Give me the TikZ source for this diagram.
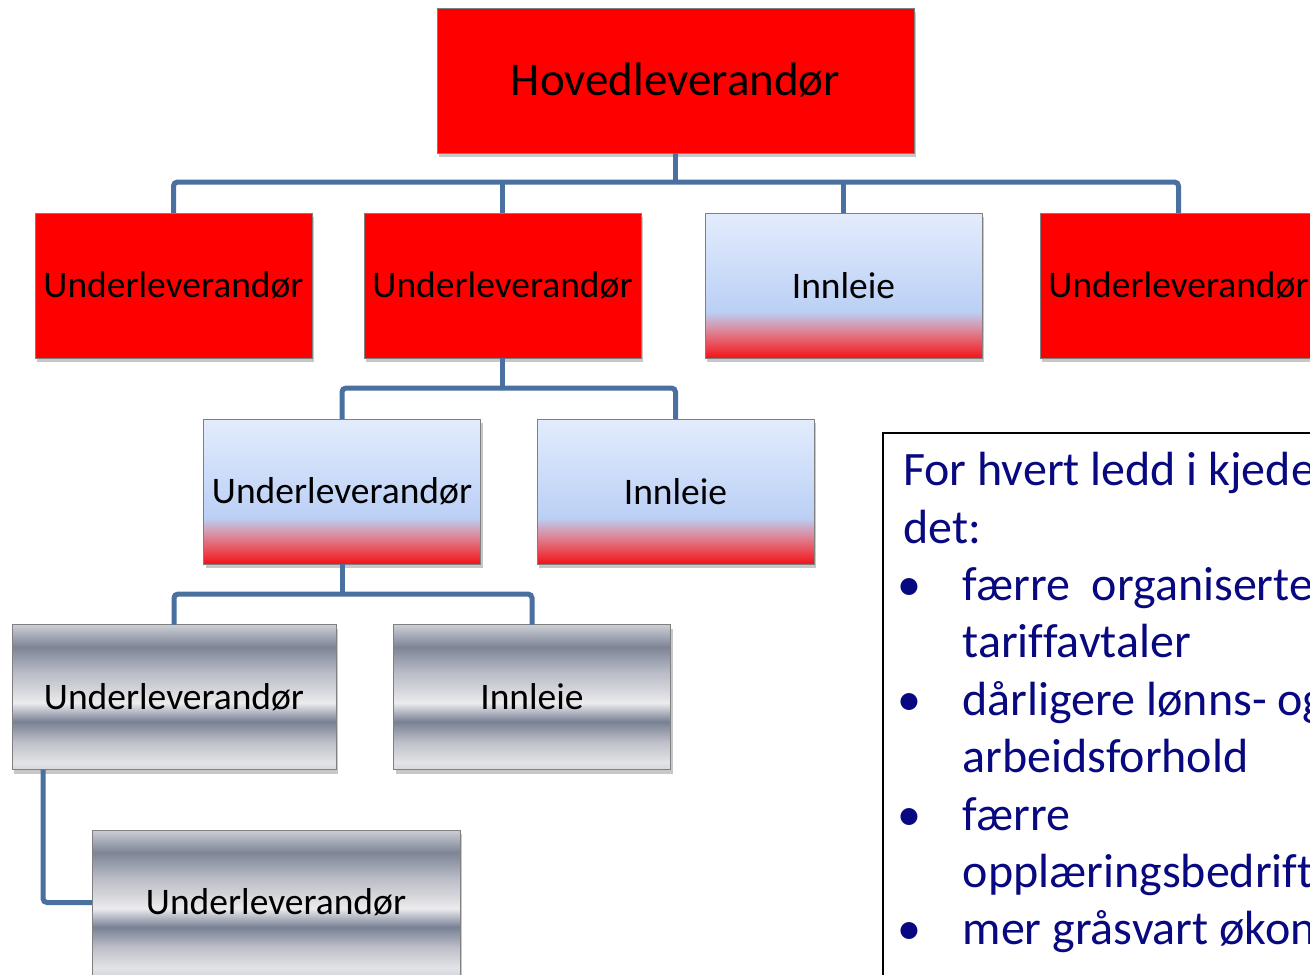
\documentclass[tikz,border=0pt]{standalone}
\usepackage{fontspec}
\setmainfont{Carlito}
\usetikzlibrary{shadows,calc}
% blue-to-red gradient
\definecolor{rb0}{RGB}{227,236,252}
\definecolor{rb1}{RGB}{187,208,246}
\definecolor{rb2}{RGB}{218,140,160}
\definecolor{rb3}{RGB}{232,80,90}
\definecolor{rb4}{RGB}{245,18,24}
\pgfdeclareverticalshading{bluered}{100bp}{color(0bp)=(rb4); color(25bp)=(rb4); color(30bp)=(rb3); color(35bp)=(rb2); color(41bp)=(rb1); color(75bp)=(rb0); color(100bp)=(rb0)}
% chrome gradient
\definecolor{gA}{RGB}{205,207,214}
\definecolor{gB}{RGB}{125,132,150}
\definecolor{gC}{RGB}{185,188,198}
\definecolor{gE}{RGB}{215,216,220}
\definecolor{gF}{RGB}{236,236,239}
\definecolor{gG}{RGB}{120,128,148}
\definecolor{gH}{RGB}{190,192,200}
\definecolor{gI}{RGB}{226,227,231}
\pgfdeclareverticalshading{chrome}{100bp}{color(0bp)=(gE); color(25bp)=(gE); color(27.5bp)=(gI); color(34.5bp)=(gH); color(41.5bp)=(gG); color(48bp)=(gF); color(52bp)=(gE); color(58.5bp)=(gC); color(67.25bp)=(gB); color(75bp)=(gA); color(100bp)=(gA)}
\definecolor{connblue}{RGB}{74,112,160}
\definecolor{navytext}{RGB}{8,8,128}
\tikzset{
  boxbase/.style={draw=black!50, line width=1pt, inner sep=0pt, outer sep=0pt,
    minimum width=277pt, minimum height=145pt, font=\fontsize{37.5}{45}\selectfont,
    drop shadow={shadow xshift=2pt, shadow yshift=-4pt, fill=black, opacity=0.22}},
  redbox/.style={boxbase, fill=red},
  gradbox/.style={boxbase, shading=bluered},
  chromebox/.style={boxbase, shading=chrome},
  conn/.style={draw=connblue, line width=5pt, rounded corners=4pt},
  tline/.style={anchor=base west, inner sep=0pt, text=navytext, font=\fontsize{48}{57}\selectfont\addfontfeature{Ligatures=NoCommon}},
  bul/.style={anchor=base, inner sep=0pt, text=navytext, font=\fontsize{48}{57}\selectfont}
}
\begin{document}
\begin{tikzpicture}[x=1pt,y=-1pt]
\clip (0,0) rectangle (1310,975);
\fill[white] (0,0) rectangle (1310,975);
% nodes
\node[redbox, minimum width=477pt, font=\fontsize{47}{56}\selectfont] (hoved) at (675.5,80.5) {Hovedleverandør};
\node[redbox] (u1) at (173.5,285.5) {Underleverandør};
\node[redbox] (u2) at (502.5,285.5) {Underleverandør};
\node[gradbox] (i1) at (843.5,285.5) {Innleie};
\node[redbox] (u4) at (1178.5,285.5) {Underleverandør};
\node[gradbox] (u5) at (342,491.5) {Underleverandør};
\node[gradbox] (i2) at (675.5,491.5) {Innleie};
\node[chromebox, minimum width=324pt] (u6) at (174,697) {Underleverandør};
\node[chromebox] (i3) at (532,697) {Innleie};
\node[chromebox, minimum width=368pt] (u7) at (276,902.5) {Underleverandør};
% connectors
\coordinate (b1) at (675.5,182);
\coordinate (b2) at (502.5,388);
\coordinate (b3) at (342,594);
\draw[conn] (hoved.south) -- (b1);
\draw[conn] (u1.north) |- (b1) -| (u4.north);
\draw[conn] (u2.north) -- (u2.north |- b1);
\draw[conn] (i1.north) -- (i1.north |- b1);
\draw[conn] (u2.south) -- (b2);
\draw[conn] (u5.north) |- (b2) -| (i2.north);
\draw[conn] (u5.south) -- (b3);
\draw[conn] (u6.north) |- (b3) -| (i3.north);
\coordinate (c4) at ($(u6.south west)+(31,0)$);
\draw[conn] (c4) |- (u7.west);
% text box
\node[draw=black, line width=2pt, anchor=north west, minimum width=460pt, minimum height=580pt, inner sep=0pt] (tb) at (882,432) {};
\node[tline] (l1) at (903,485.7) {For hvert ledd i kjede};
\node[tline] (l2) at (903,543.1) {det:};
\node[bul] (k1) at (909.5,600.5) {•};
\node[tline] (l3) at (962.5,600.5) {færre\ \ organiserte};
\node[tline] (l4) at (962.5,657.9) {tariffavtaler};
\node[bul] (k2) at (909.5,715.3) {•};
\node[tline] (l5) at (962.5,715.3) {dårligere lønns- og};
\node[tline] (l6) at (962.5,772.7) {arbeidsforhold};
\node[bul] (k3) at (909.5,830.1) {•};
\node[tline] (l7) at (962.5,830.1) {færre};
\node[tline] (l8) at (962.5,887.5) {opplæringsbedrift};
\node[bul] (k4) at (909.5,944.9) {•};
\node[tline] (l9) at (962.5,944.9) {mer gråsvart økon};
\end{tikzpicture}
\end{document}
